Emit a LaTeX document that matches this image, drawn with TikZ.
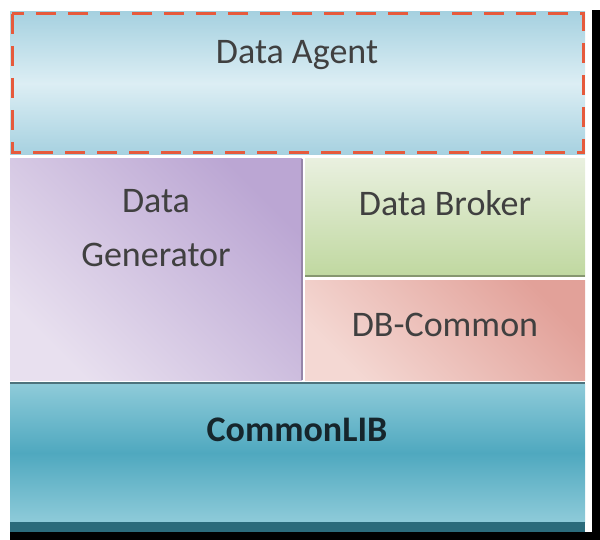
\documentclass[tikz,border=0pt]{standalone}
\usepackage{fontspec}
\setmainfont{Carlito}
\usepackage{tikz}
\usetikzlibrary{positioning}

\definecolor{agentdash}{HTML}{E65A3C}
\definecolor{labeltext}{HTML}{404040}
\definecolor{libtext}{HTML}{16262C}
\definecolor{agentdark}{HTML}{A6D1E0}
\definecolor{agentlight}{HTML}{DCEEF4}
\definecolor{genlight}{HTML}{E8E0EF}
\definecolor{gendark}{HTML}{BBA6D3}
\definecolor{brokerlight}{HTML}{E9F0DF}
\definecolor{brokerdark}{HTML}{C0D8A0}
\definecolor{dblight}{HTML}{F4D8D3}
\definecolor{dbdark}{HTML}{E2A199}
\definecolor{libpale}{HTML}{8ECBD9}
\definecolor{libmid}{HTML}{4FA8BF}
\definecolor{libband}{HTML}{2B6B7B}

\tikzset{
    layertext/.style={text=labeltext, font=\fontsize{18}{27}\selectfont, align=center},
    edge/.style={line width=0.6pt}
}

\begin{document}
\begin{tikzpicture}[x=0.5pt, y=-0.5pt]

    \useasboundingbox (0,0) rectangle (600,540);

    % SHADOW (right and bottom)
    \fill[black] (592,10) rectangle (600,540);
    \fill[black] (10,532) rectangle (600,540);

    % DATA AGENT
    \shade[top color=agentdark, bottom color=agentdark, middle color=agentlight]
        (10,12) rectangle (585,155);
    \draw[agentdash, line width=1.5pt, dash pattern=on 10pt off 6pt]
        (12,14) rectangle (583,153);
    \node[layertext] (agent) at (297,55) {Data Agent};

    % DATA GENERATOR
    \shade[top color=genlight, bottom color=gendark, shading angle=135]
        (10,159) rectangle (302,380);
    \draw[edge, gendark!80!black] (302,159) -- (302,380);
    \node[layertext] (generator) at (156,228) {Data\\Generator};

    % DATA BROKER
    \shade[top color=brokerlight, bottom color=brokerdark]
        (305,159) rectangle (585,276);
    \draw[edge, brokerdark!70!black] (305,276) -- (585,276);
    \node[layertext] (broker) at (445,203) {Data Broker};

    % DB COMMON
    \shade[top color=dblight, bottom color=dbdark, shading angle=135]
        (305,280) rectangle (585,380);
    \node[layertext] (dbcommon) at (445,325) {DB-Common};

    % COMMON LIB
    \shade[top color=libpale, bottom color=libpale, middle color=libmid]
        (10,384) rectangle (585,522);
    \fill[libband] (10,522) rectangle (585,532);
    \draw[edge, libband!60!gray] (10,383) -- (585,383);
    \node[layertext, text=libtext, font=\fontsize{18}{27}\selectfont\bfseries]
        (commonlib) at (297,430) {CommonLIB};

\end{tikzpicture}
\end{document}
